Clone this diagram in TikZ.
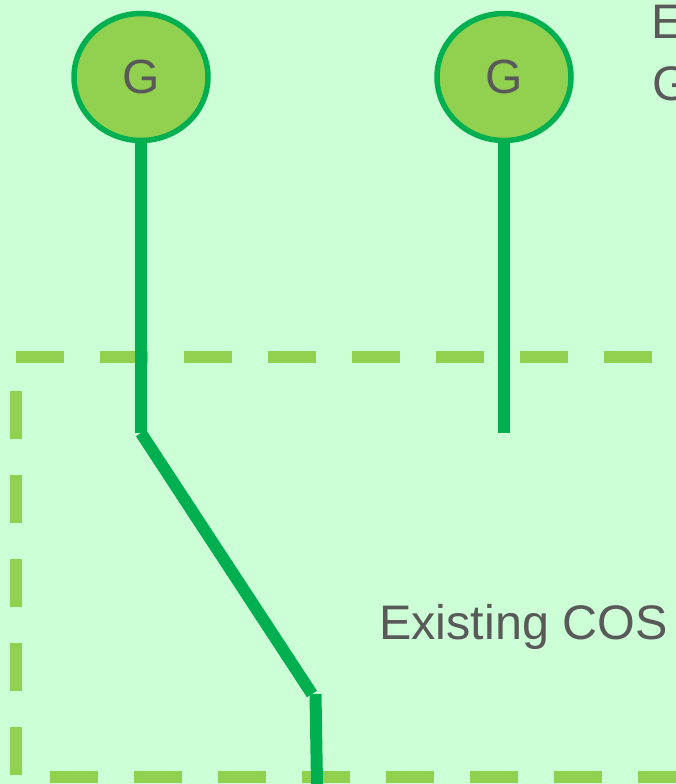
\documentclass[tikz,border=0pt]{standalone}
\usepackage{fontspec}
\setmainfont{Liberation Sans}
\usetikzlibrary{shapes.geometric}
\definecolor{mint}{RGB}{204,255,214}
\definecolor{leaf}{RGB}{146,208,80}
\definecolor{deep}{RGB}{0,176,80}
\definecolor{ink}{RGB}{89,89,89}
\tikzset{
  gen/.style={ellipse, draw=deep, fill=leaf, line width=5.5pt, minimum width=134pt,
    minimum height=127pt, inner sep=0pt, text=ink, font=\fontsize{48}{48}\selectfont},
  wire/.style={draw=deep, line width=12pt, line cap=butt},
  fence/.style={draw=leaf, line width=12pt, dash pattern=on 48pt off 36pt},
  lbl/.style={text=ink, font=\fontsize{48.5}{48.5}\selectfont, inner sep=0pt, anchor=base west}
}
\begin{document}
\begin{tikzpicture}[x=1pt,y=-1pt]
  \fill[mint] (0,0) rectangle (676,784);
  \useasboundingbox (0,0) rectangle (676,784);

  % boundary of the existing area
  \coordinate (t0) at (16,356.5);
  \coordinate (t1) at (676,356.5);
  \coordinate (l0) at (16,391);
  \coordinate (l1) at (16,784);
  \coordinate (u0) at (50,777);
  \coordinate (u1) at (676,777);
  \draw[fence] (t0) -- (t1);
  \draw[fence] (l0) -- (l1);
  \draw[fence] (u0) -- (u1);

  % generators
  \node[gen] (g1) at (141,77) {G};
  \node[gen] (g2) at (504,77) {G};

  % feeder routes
  \coordinate (k1) at (141,433);
  \coordinate (k2) at (312,694);
  \coordinate (k3) at (315.5,694);
  \coordinate (k4) at (317,784);
  \coordinate (m1) at (504,433);
  \draw[wire] (g1.south) -- (k1);
  \draw[wire] (k1) -- (k2);
  \draw[wire] (k3) -- (k4);
  \draw[wire] (g2.south) -- (m1);

  % labels
  \node[lbl] (cos) at (379,639) {Existing COS};
  \node[lbl] (e) at (651,39) {E};
  \node[lbl] (gg) at (652,100) {G};
\end{tikzpicture}
\end{document}
